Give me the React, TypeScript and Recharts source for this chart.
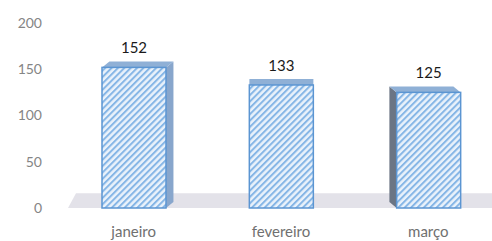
import React from "react";
import { BarChart, Bar, XAxis, YAxis, LabelList, ReferenceArea } from "recharts";

const months = ["janeiro", "fevereiro", "março"];
const totals = [152, 133, 125];
const yTicks = [0, 50, 100, 150, 200];

const data = months.map((month, i) => ({ month, total: totals[i] }));

const FONT = "Lato, 'Open Sans', sans-serif";
const VIEW_X = 283;

function Bar3D(props: any) {
  const { x, y, width, height, index } = props;
  const cx = x + width / 2;
  const dx = (VIEW_X - cx) * 0.05;
  const dy = -6;
  const id = `hatch-${index}`;
  const side =
    dx > 0
      ? `${x + width},${y} ${x + width + dx},${y + dy} ${x + width + dx},${y + height + dy} ${x + width},${y + height}`
      : `${x},${y} ${x + dx},${y + dy} ${x + dx},${y + height + dy} ${x},${y + height}`;
  const top = `${x},${y} ${x + dx},${y + dy} ${x + width + dx},${y + dy} ${x + width},${y}`;
  return (
    <g>
      <defs>
        <pattern id={id} width="4.5" height="4.5" patternUnits="userSpaceOnUse" patternTransform="rotate(45)">
          <rect width="4.5" height="4.5" fill="#eaf2fb" />
          <rect width="2" height="4.5" fill="#86b6e6" />
        </pattern>
      </defs>
      {Math.abs(dx) > 0.5 && <polygon points={side} fill={dx > 0 ? "#88a6cc" : "#6b7584"} />}
      <polygon points={top} fill="#8fb0d6" />
      <rect x={x} y={y} width={width} height={height} fill={`url(#${id})`} stroke="#5b95d2" strokeWidth={1.5} />
    </g>
  );
}

function Floor(props: any) {
  const { x, y, width, height } = props;
  const left = x + 8;
  const pts = `${left},${y + height} ${left + 8},${y} ${x + width},${y} ${x + width},${y + height}`;
  return <polygon points={pts} fill="#e3e2e9" />;
}

export default function App() {
  return (
    <div style={{ position: "absolute", left: 0, top: 0, width: 492, height: 241, overflow: "hidden", background: "#fff" }}>
      <BarChart width={502} height={241} data={data} margin={{ top: 23, right: 0, bottom: 3, left: 0 }}>
        <ReferenceArea y1={0} y2={16} shape={<Floor />} fill="#e3e2e9" />
        <XAxis
          dataKey="month"
          axisLine={false}
          tickLine={false}
          height={30}
          tickMargin={12}
          padding={{ left: 18, right: 0 }}
          tick={{ fill: "#707070", fontSize: 15, fontFamily: FONT }}
        />
        <YAxis
          domain={[0, 200]}
          ticks={yTicks}
          width={42}
          axisLine={false}
          tickLine={false}
          tickSize={0}
          tickMargin={0}
          tick={{ fill: "#858585", fontSize: 14, fontFamily: FONT }}
        />
        <Bar dataKey="total" barSize={64} shape={<Bar3D />} isAnimationActive={false}>
          <LabelList dataKey="total" position="top" offset={14} fill="#1a1a1a" fontSize={15} fontFamily={FONT} />
        </Bar>
      </BarChart>
    </div>
  );
}
